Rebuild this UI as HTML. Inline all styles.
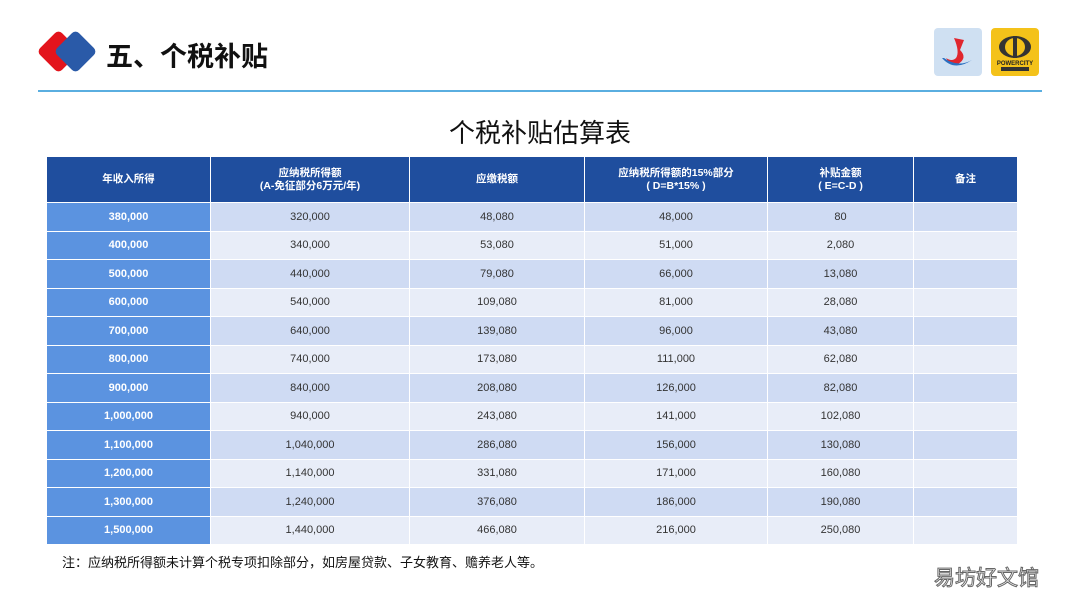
<!DOCTYPE html>
<html><head><meta charset="utf-8"><style>
body{margin:0;width:1080px;height:608px;background:#fff;position:relative;overflow:hidden;font-family:"Liberation Sans","Noto Sans CJK SC",sans-serif}
.abs{position:absolute}
table{position:absolute;left:46px;top:156px;border-collapse:separate;border-spacing:1px;font-size:11px;color:#333}
td,th{text-align:center;padding:0}
th{background:#1f4e9e;color:#fff;font-weight:bold;height:45px;font-size:10.5px;line-height:13px}
td{height:27.5px}
tr.o td{background:#cfdbf3}
tr.e td{background:#e8edf8}
tr td.first{background:#5b93e0;color:#fff;font-weight:bold}
</style></head><body>
<div class="abs" style="left:43px;top:36px;width:31px;height:31px;background:#e3141c;transform:rotate(45deg);border-radius:5px"></div>
<div class="abs" style="left:60px;top:36px;width:31px;height:31px;background:#2a5aa8;transform:rotate(45deg);border-radius:5px"></div>
<div class="abs" style="left:106px;top:35px;font-size:27px;font-weight:bold;color:#111">五、个税补贴</div>
<div class="abs" style="left:934px;top:28px;width:48px;height:48px;background:#cfe0f2;border-radius:4px">
<svg width="48" height="48"><path d="M20 10 L30 12 L26 22 Q34 30 24 36 Q16 38 12 30 Q18 34 22 30 Q26 24 20 10Z" fill="#e0262e"/><path d="M8 30 Q20 44 38 32 Q24 40 10 30Z" fill="#2a6fc0"/></svg></div>
<div class="abs" style="left:991px;top:28px;width:48px;height:48px;background:#f4c21a;border-radius:4px">
<svg width="48" height="48"><ellipse cx="24" cy="19" rx="16" ry="11" fill="#333"/><ellipse cx="24" cy="19" rx="10" ry="9" fill="#f4c21a"/><rect x="22" y="8" width="4" height="22" fill="#333"/><text x="24" y="37" font-size="6" font-weight="bold" text-anchor="middle" fill="#222" font-family="Liberation Sans">POWERCITY</text><rect x="10" y="39" width="28" height="4" fill="#333"/></svg></div>
<div class="abs" style="left:38px;top:90px;width:1004px;height:2px;background:#5aaee0"></div>
<div class="abs" style="left:0;width:1080px;top:113px;text-align:center;font-size:26px;color:#111">个税补贴估算表</div>
<table>
<tr><th style="width:163px">年收入所得</th><th style="width:198px">应纳税所得额<br>(A-免征部分6万元/年)</th><th style="width:174px">应缴税额</th><th style="width:182px">应纳税所得额的15%部分<br>( D=B*15% )</th><th style="width:145px">补贴金额<br>( E=C-D )</th><th style="width:103px">备注</th></tr>
<tbody id="tb"></tbody>
</table>
<div class="abs" style="left:62px;top:552px;font-size:13px;color:#111">注：应纳税所得额未计算个税专项扣除部分，如房屋贷款、子女教育、赡养老人等。</div>
<div class="abs" style="left:934px;top:562px;font-size:21px;color:#fff;-webkit-text-stroke:1px #666">易坊好文馆</div>
<script>
const income=["380,000","400,000","500,000","600,000","700,000","800,000","900,000","1,000,000","1,100,000","1,200,000","1,300,000","1,500,000"];
const taxable=["320,000","340,000","440,000","540,000","640,000","740,000","840,000","940,000","1,040,000","1,140,000","1,240,000","1,440,000"];
const tax=["48,080","53,080","79,080","109,080","139,080","173,080","208,080","243,080","286,080","331,080","376,080","466,080"];
const part15=["48,000","51,000","66,000","81,000","96,000","111,000","126,000","141,000","156,000","171,000","186,000","216,000"];
const subsidy=["80","2,080","13,080","28,080","43,080","62,080","82,080","102,080","130,080","160,080","190,080","250,080"];
const tb=document.getElementById('tb');
income.forEach((v,i)=>{
 const tr=document.createElement('tr');
 tr.className=i%2?'e':'o';
 
 
 [v,taxable[i],tax[i],part15[i],subsidy[i],""].forEach((c,j)=>{
  const td=document.createElement('td');
  if(j===0)td.className='first';
  td.textContent=c;
  
  
  tr.appendChild(td);
 });
 tb.appendChild(tr);
});
</script>
</body></html>
